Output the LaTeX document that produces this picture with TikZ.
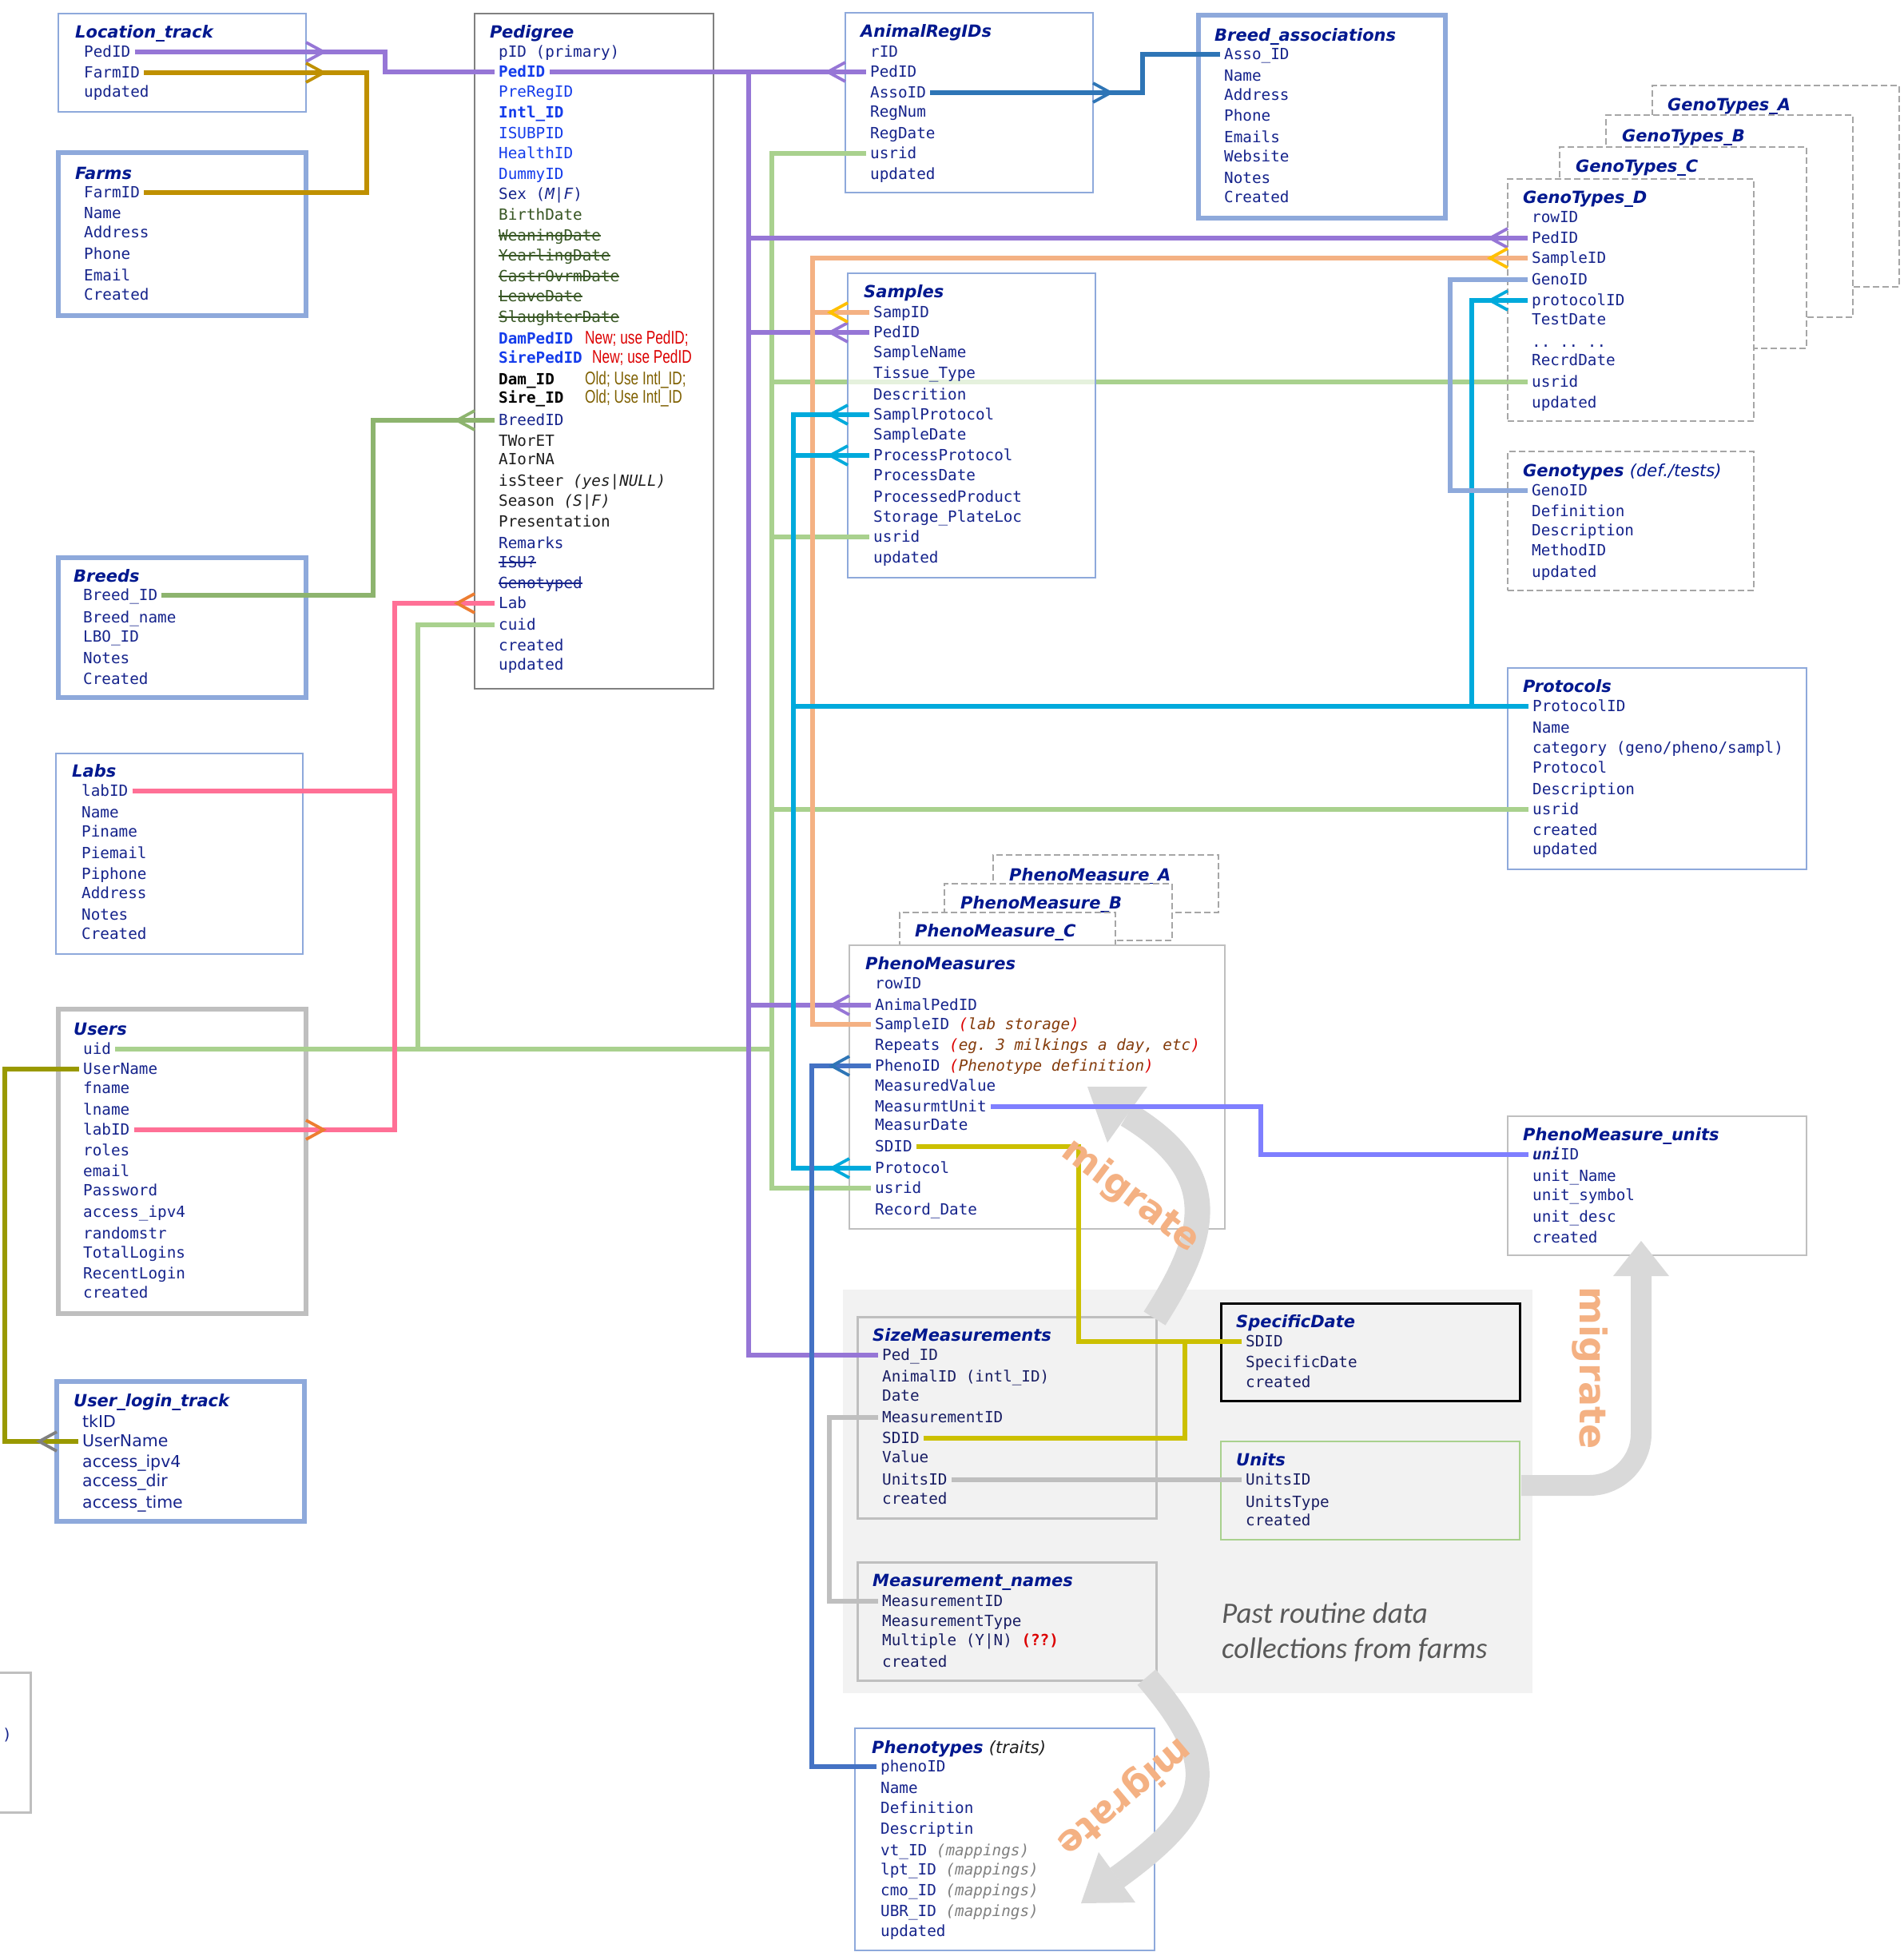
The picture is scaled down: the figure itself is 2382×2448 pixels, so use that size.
\documentclass[tikz,border=0pt]{standalone}
\usepackage{fontspec}
\setmonofont{DejaVu Sans Mono}
\newfontfamily\tfont{DejaVu Sans}
\newfontfamily\nfont[FakeStretch=0.75]{Liberation Sans}
\newfontfamily\pfont{Carlito}
\usetikzlibrary{calc}
\pgfdeclarelayer{bg}
\pgfdeclarelayer{under}
\pgfsetlayers{bg,under,main}
\definecolor{navy}{RGB}{0,24,143}
\definecolor{fieldblue}{RGB}{22,36,140}
\definecolor{darkfld}{RGB}{25,30,100}
\definecolor{brightblue}{RGB}{20,60,235}
\definecolor{dkgreen}{RGB}{55,86,35}
\definecolor{nred}{RGB}{220,0,0}
\definecolor{oldbrown}{RGB}{127,96,0}
\definecolor{txtblack}{RGB}{30,30,30}
\definecolor{boxblue}{RGB}{142,169,219}
\definecolor{boxgray}{RGB}{191,191,191}
\definecolor{pedgray}{RGB}{128,128,128}
\definecolor{dashgray}{RGB}{166,166,166}
\definecolor{areagray}{RGB}{242,242,242}
\definecolor{cpurple}{RGB}{150,118,214}
\definecolor{cgold}{RGB}{191,144,0}
\definecolor{cbreed}{RGB}{141,180,110}
\definecolor{cpink}{RGB}{255,112,150}
\definecolor{corange}{RGB}{237,125,49}
\definecolor{cgreen}{RGB}{169,209,142}
\definecolor{casso}{RGB}{46,117,182}
\definecolor{csalmon}{RGB}{244,177,131}
\definecolor{cyellow}{RGB}{255,192,0}
\definecolor{ccyan}{RGB}{0,170,220}
\definecolor{cgeno}{RGB}{142,169,219}
\definecolor{cunit}{RGB}{127,127,255}
\definecolor{colive}{RGB}{153,153,0}
\definecolor{csdid}{RGB}{204,192,0}
\definecolor{cpheno}{RGB}{68,114,196}
\definecolor{cmig}{RGB}{217,217,217}
\definecolor{brownnote}{RGB}{132,60,12}
\definecolor{pastgray}{RGB}{89,89,89}
\definecolor{mapgray}{RGB}{128,128,128}
\definecolor{footgray}{RGB}{128,128,128}
\newcommand\mystrike[1]{\setbox0=\hbox{#1}\rlap{\rule[5.5pt]{\wd0}{1.6pt}}\box0}
\newcommand\pnote[1]{{\itshape\textcolor{nred}{(}\textcolor{brownnote}{#1}\textcolor{nred}{)}}}
\newcommand\fd[5][]{\node[fld,#1] (#2) at (#3,#4) {#5};}
\newcommand\mybox[6]{\node[tb,#6,minimum width=#4pt,minimum height=#5pt] (#1) at (#2,#3) {};}
\newcommand\mycrow[4]{\coordinate (cfp) at (#2 |- #3);
  \draw[cfoot,#1] ($(cfp)+(0,12)$) -- ($(cfp)+(#4,0)$) -- ($(cfp)+(0,-12)$);}
\tikzset{
 fld/.style={anchor=west, inner xsep=5pt, inner ysep=0pt, xshift=-5pt, text height=13pt, text depth=0pt, font=\ttfamily\fontsize{19.3}{25}\selectfont, text=fieldblue},
 ulf/.style={font=\tfont\fontsize{20.5}{25}\selectfont},
 ttl/.style={anchor=west, inner sep=0pt, text height=15pt, text depth=0pt, font=\tfont\bfseries\itshape\fontsize{21}{25}\selectfont, text=navy},
 note/.style={anchor=west, inner sep=0pt, text height=13pt, text depth=0pt, font=\nfont\fontsize{23}{25}\selectfont},
 tb/.style={anchor=north west, inner sep=0pt, outer sep=0pt, fill=white},
 blu/.style={draw=boxblue, line width=2.5pt},
 bluthick/.style={draw=boxblue, line width=5.5pt},
 gry/.style={draw=boxgray, line width=2.5pt},
 grythick/.style={draw=boxgray, line width=5.5pt},
 dsh/.style={draw=dashgray, line width=2.5pt, dash pattern=on 8pt off 4pt},
 conn/.style={line width=5.4pt},
 cfoot/.style={line width=3.8pt},
 mig/.style={draw=cmig},
 migt/.style={font=\tfont\bfseries\fontsize{46}{46}\selectfont, text=csalmon, inner sep=0pt},
}
\begin{document}
\begin{tikzpicture}[x=1pt,y=-1pt]
\begin{pgfonlayer}{bg}
\fill[white] (0,0) rectangle (2382,2448);
\end{pgfonlayer}
\useasboundingbox (0,0) rectangle (2382,2448);

% ---------- gray area
\mybox{area}{1055}{1614}{863}{505}{fill=areagray}

% ---------- Location_track
\mybox{lt}{73}{17}{310}{123}{blu}
\node[ttl] (lt-t) at (94,40) {Location\_track};
\fd{lt-ped}{105}{65}{PedID}
\fd{lt-farm}{105}{91}{FarmID}
\fd{lt-upd}{105}{115}{updated}

% ---------- Farms
\mybox{fa}{73}{191}{310}{204}{draw=boxblue,line width=6pt}
\node[ttl] (fa-t) at (94,217) {Farms};
\fd{fa-farm}{105}{241}{FarmID}
\fd{fa-2}{105}{267}{Name}
\fd{fa-3}{105}{291}{Address}
\fd{fa-4}{105}{318}{Phone}
\fd{fa-5}{105}{345}{Email}
\fd{fa-6}{105}{369}{Created}

% ---------- Breeds
\mybox{br}{73}{698}{310}{175}{bluthick}
\node[ttl] (br-t) at (92,721) {Breeds};
\fd{br-id}{104}{745}{Breed\_ID}
\fd{br-2}{104}{773}{Breed\_name}
\fd{br-3}{104}{797}{LBO\_ID}
\fd{br-4}{104}{824}{Notes}
\fd{br-5}{104}{850}{Created}

% ---------- Labs
\mybox{la}{70}{943}{309}{251}{blu}
\node[ttl] (la-t) at (90,965) {Labs};
\fd{la-id}{102}{990}{labID}
\fd{la-2}{102}{1017}{Name}
\fd{la-3}{102}{1041}{Piname}
\fd{la-4}{102}{1068}{Piemail}
\fd{la-5}{102}{1094}{Piphone}
\fd{la-6}{102}{1118}{Address}
\fd{la-7}{102}{1145}{Notes}
\fd{la-8}{102}{1169}{Created}

% ---------- Users
\mybox{us}{73}{1263}{310}{381}{grythick}
\node[ttl] (us-t) at (92,1288) {Users};
\fd{us-uid}{104}{1313}{uid}
\fd{us-name}{104}{1338}{UserName}
\fd{us-3}{104}{1362}{fname}
\fd{us-4}{104}{1389}{lname}
\fd{us-lab}{104}{1414}{labID}
\fd{us-6}{104}{1440}{roles}
\fd{us-7}{104}{1466}{email}
\fd{us-8}{104}{1490}{Password}
\fd{us-9}{104}{1517}{access\_ipv4}
\fd{us-10}{104}{1544}{randomstr}
\fd{us-11}{104}{1568}{TotalLogins}
\fd{us-12}{104}{1594}{RecentLogin}
\fd{us-13}{104}{1618}{created}

% ---------- User_login_track
\mybox{ul}{71}{1729}{310}{175}{bluthick}
\node[ttl] (ul-t) at (92,1753) {User\_login\_track};
\fd[ulf]{ul-1}{103}{1780}{tkID}
\fd[ulf]{ul-name}{103}{1804}{UserName}
\fd[ulf]{ul-3}{103}{1830}{access\_ipv4}
\fd[ulf]{ul-4}{103}{1854}{access\_dir}
\fd[ulf]{ul-5}{103}{1881}{access\_time}

% ---------- partial box at left edge
\draw[boxgray, line width=3pt] (0,2093) -- (38,2093) -- (38,2268) -- (0,2268);
\fd{lb-p}{3}{2171}{)}

% ---------- Pedigree
\mybox{ped}{594}{17}{299}{845}{draw=pedgray,line width=2.5pt}
\node[ttl] (p-t) at (613,40) {Pedigree};
\fd{p-1}{624}{65}{pID (primary)}
\fd[text=brightblue]{p-pedid}{624}{90}{\textbf{PedID}}
\fd[text=brightblue]{p-3}{624}{115}{PreRegID}
\fd[text=brightblue]{p-4}{624}{141}{\textbf{Intl\_ID}}
\fd[text=brightblue]{p-5}{624}{167}{ISUBPID}
\fd[text=brightblue]{p-6}{624}{192}{HealthID}
\fd[text=brightblue]{p-7}{624}{218}{DummyID}
\fd{p-8}{624}{243}{Sex (\textit{M|F})}
\fd[text=dkgreen]{p-9}{624}{269}{BirthDate}
\fd[text=dkgreen]{p-10}{624}{295}{\mystrike{WeaningDate}}
\fd[text=dkgreen]{p-11}{624}{320}{\mystrike{YearlingDate}}
\fd[text=dkgreen]{p-12}{624}{346}{\mystrike{CastrOvrmDate}}
\fd[text=dkgreen]{p-13}{624}{371}{\mystrike{LeaveDate}}
\fd[text=dkgreen]{p-14}{624}{397}{\mystrike{SlaughterDate}}
\fd[text=brightblue]{p-15}{624}{424}{\textbf{DamPedID}}
\node[note,text=nred] (p-n1) at (732,424) {New; use PedID;};
\fd[text=brightblue]{p-16}{624}{448}{\textbf{SirePedID}}
\node[note,text=nred] (p-n2) at (741,448) {New; use PedID};
\fd[text=black]{p-17}{624}{475}{\textbf{Dam\_ID}}
\node[note,text=oldbrown] (p-n3) at (732,475) {Old; Use Intl\_ID;};
\fd[text=black]{p-18}{624}{498}{\textbf{Sire\_ID}}
\node[note,text=oldbrown] (p-n4) at (732,498) {Old; Use Intl\_ID};
\fd{p-breed}{624}{526}{BreedID}
\fd[text=txtblack]{p-20}{624}{552}{TWorET}
\fd[text=txtblack]{p-21}{624}{575}{AIorNA}
\fd[text=txtblack]{p-22}{624}{602}{isSteer \textit{(yes|NULL)}}
\fd[text=txtblack]{p-23}{624}{627}{Season \textit{(S|F)}}
\fd[text=txtblack]{p-24}{624}{653}{Presentation}
\fd{p-25}{624}{680}{Remarks}
\fd{p-26}{624}{704}{\mystrike{ISU?}}
\fd{p-27}{624}{730}{\mystrike{Genotyped}}
\fd{p-lab}{624}{755}{Lab}
\fd{p-cuid}{624}{782}{cuid}
\fd{p-30}{624}{808}{created}
\fd{p-31}{624}{832}{updated}

% ---------- AnimalRegIDs
\mybox{ar}{1058}{16}{310}{225}{blu}
\node[ttl] (ar-t) at (1077,39) {AnimalRegIDs};
\fd{ar-1}{1089}{65}{rID}
\fd{ar-ped}{1089}{90}{PedID}
\fd{ar-asso}{1089}{116}{AssoID}
\fd{ar-4}{1089}{140}{RegNum}
\fd{ar-5}{1089}{167}{RegDate}
\fd{ar-usr}{1089}{192}{usrid}
\fd{ar-7}{1089}{218}{updated}

% ---------- Breed_associations
\mybox{ba}{1500}{19}{309}{254}{bluthick}
\node[ttl] (ba-t) at (1520,44) {Breed\_associations};
\fd{ba-id}{1532}{68}{Asso\_ID}
\fd{ba-2}{1532}{95}{Name}
\fd{ba-3}{1532}{119}{Address}
\fd{ba-4}{1532}{145}{Phone}
\fd{ba-5}{1532}{172}{Emails}
\fd{ba-6}{1532}{196}{Website}
\fd{ba-7}{1532}{223}{Notes}
\fd{ba-8}{1532}{247}{Created}

% ---------- GenoTypes stack
\mybox{gA}{2068}{107}{309}{252}{dsh}
\node[ttl] (gA-t) at (2087,131) {GenoTypes\_A};
\mybox{gB}{2010}{144}{309}{253}{dsh}
\node[ttl] (gB-t) at (2030,170) {GenoTypes\_B};
\mybox{gC}{1952}{184}{309}{252}{dsh}
\node[ttl] (gC-t) at (1972,208) {GenoTypes\_C};
\mybox{gd}{1887}{224}{308}{303}{dsh}
\node[ttl] (gD-t) at (1906,247) {GenoTypes\_D};
\fd{gd-1}{1917}{272}{rowID}
\fd{gd-ped}{1917}{298}{PedID}
\fd{gd-samp}{1917}{323}{SampleID}
\fd{gd-geno}{1917}{350}{GenoID}
\fd{gd-prot}{1917}{376}{protocolID}
\fd{gd-6}{1917}{400}{TestDate}
\fd{gd-7}{1917}{428}{.. .. ..}
\fd{gd-8}{1917}{451}{RecrdDate}
\fd{gd-usr}{1917}{478}{usrid}
\fd{gd-10}{1917}{504}{updated}

% ---------- Genotypes (def./tests)
\mybox{gt}{1887}{565}{308}{174}{dsh}
\node[ttl] (gt-t) at (1906,589) {Genotypes {\mdseries (def./tests)}};
\fd{gt-geno}{1917}{614}{GenoID}
\fd{gt-2}{1917}{640}{Definition}
\fd{gt-3}{1917}{664}{Description}
\fd{gt-4}{1917}{689}{MethodID}
\fd{gt-5}{1917}{716}{updated}

% ---------- Samples (semi-transparent fill)
\mybox{sa}{1061}{342}{310}{381}{blu,fill opacity=0.7}
\node[ttl] (sa-t) at (1081,365) {Samples};
\fd{sa-samp}{1093}{391}{SampID}
\fd{sa-ped}{1093}{416}{PedID}
\fd{sa-3}{1093}{441}{SampleName}
\fd{sa-4}{1093}{467}{Tissue\_Type}
\fd{sa-5}{1093}{494}{Descrition}
\fd{sa-sprot}{1093}{519}{SamplProtocol}
\fd{sa-7}{1093}{544}{SampleDate}
\fd{sa-pprot}{1093}{570}{ProcessProtocol}
\fd{sa-9}{1093}{595}{ProcessDate}
\fd{sa-10}{1093}{622}{ProcessedProduct}
\fd{sa-11}{1093}{647}{Storage\_PlateLoc}
\fd{sa-usr}{1093}{672}{usrid}
\fd{sa-13}{1093}{698}{updated}

% ---------- Protocols
\mybox{pr}{1887}{836}{374}{252}{blu}
\node[ttl] (pr-t) at (1906,859) {Protocols};
\fd{pr-id}{1918}{884}{ProtocolID}
\fd{pr-2}{1918}{911}{Name}
\fd{pr-3}{1918}{936}{category (geno/pheno/sampl)}
\fd{pr-4}{1918}{961}{Protocol}
\fd{pr-5}{1918}{988}{Description}
\fd{pr-usr}{1918}{1013}{usrid}
\fd{pr-7}{1918}{1039}{created}
\fd{pr-8}{1918}{1063}{updated}

% ---------- PhenoMeasure_units
\mybox{pu}{1887}{1397}{374}{174}{gry}
\node[ttl] (pu-t) at (1906,1420) {PhenoMeasure\_units};
\fd{pu-id}{1918}{1445}{\textbf{\textit{uni}}ID}
\fd{pu-2}{1918}{1472}{unit\_Name}
\fd{pu-3}{1918}{1496}{unit\_symbol}
\fd{pu-4}{1918}{1523}{unit\_desc}
\fd{pu-5}{1918}{1549}{created}

% ---------- PhenoMeasure stack
\mybox{pA}{1243}{1070}{282}{72}{dsh}
\node[ttl] (pA-t) at (1263,1095) {PhenoMeasure\_A};
\mybox{pB}{1182}{1106}{285}{71}{dsh}
\node[ttl] (pB-t) at (1202,1130) {PhenoMeasure\_B};
\mybox{pC}{1126}{1142}{270}{60}{dsh}
\node[ttl] (pC-t) at (1145,1165) {PhenoMeasure\_C};
\mybox{pm}{1063}{1183}{470}{355}{gry}
\node[ttl] (pm-t) at (1083,1206) {PhenoMeasures};
\fd{pm-1}{1095}{1231}{rowID}
\fd{pm-ped}{1095}{1258}{AnimalPedID}
\fd{pm-samp}{1095}{1282}{SampleID \pnote{lab storage}}
\fd{pm-4}{1095}{1308}{Repeats \pnote{eg. 3 milkings a day, etc}}
\fd{pm-pheno}{1095}{1334}{PhenoID \pnote{Phenotype definition}}
\fd{pm-6}{1095}{1359}{MeasuredValue}
\fd{pm-unit}{1095}{1385}{MeasurmtUnit}
\fd{pm-8}{1095}{1408}{MeasurDate}
\fd{pm-sdid}{1095}{1435}{SDID}
\fd{pm-prot}{1095}{1462}{Protocol}
\fd{pm-usr}{1095}{1487}{usrid}
\fd{pm-12}{1095}{1514}{Record\_Date}

% ---------- SizeMeasurements
\mybox{sz}{1073}{1648}{374}{252}{draw=boxgray,line width=3pt,fill=areagray}
\node[ttl] (sz-t) at (1092,1671) {SizeMeasurements};
\fd[text=darkfld]{sz-ped}{1104}{1696}{Ped\_ID}
\fd[text=darkfld]{sz-2}{1104}{1723}{AnimalID (intl\_ID)}
\fd[text=darkfld]{sz-3}{1104}{1747}{Date}
\fd[text=darkfld]{sz-mid}{1104}{1774}{MeasurementID}
\fd[text=darkfld]{sz-sdid}{1104}{1800}{SDID}
\fd[text=darkfld]{sz-6}{1104}{1824}{Value}
\fd[text=darkfld]{sz-unit}{1104}{1852}{UnitsID}
\fd[text=darkfld]{sz-8}{1104}{1876}{created}

% ---------- Measurement_names
\mybox{mn}{1073}{1955}{374}{148}{draw=boxgray,line width=3pt,fill=areagray}
\node[ttl] (mn-t) at (1092,1978) {Measurement\_names};
\fd[text=darkfld]{mn-mid}{1104}{2004}{MeasurementID}
\fd[text=darkfld]{mn-2}{1104}{2029}{MeasurementType}
\fd[text=darkfld]{mn-3}{1104}{2053}{Multiple (Y|N) \textcolor{nred}{\textbf{(??)}}}
\fd[text=darkfld]{mn-4}{1104}{2080}{created}

% ---------- SpecificDate
\mybox{sd}{1528}{1631}{374}{122}{draw=black,line width=3pt,fill=areagray}
\node[ttl] (sd-t) at (1547,1654) {SpecificDate};
\fd[text=darkfld]{sd-id}{1559}{1679}{SDID}
\fd[text=darkfld]{sd-2}{1559}{1705}{SpecificDate}
\fd[text=darkfld]{sd-3}{1559}{1730}{created}

% ---------- Units
\mybox{un}{1528}{1804}{374}{123}{draw=cgreen,line width=2.5pt,fill=areagray}
\node[ttl] (un-t) at (1547,1827) {Units};
\fd[text=darkfld]{un-id}{1559}{1852}{UnitsID}
\fd[text=darkfld]{un-2}{1559}{1880}{UnitsType}
\fd[text=darkfld]{un-3}{1559}{1903}{created}

\node[anchor=base west, inner sep=0pt, font=\pfont\itshape\fontsize{37}{44}\selectfont, text=pastgray] (past1) at (1529,2031) {Past routine data};
\node[anchor=base west, inner sep=0pt, font=\pfont\itshape\fontsize{37}{44}\selectfont, text=pastgray] (past2) at (1529,2075) {collections from farms};

% ---------- Phenotypes
\mybox{ph}{1070}{2163}{375}{278}{blu}
\node[ttl] (ph-t) at (1091,2187) {Phenotypes {\mdseries\color{txtblack}(traits)}};
\fd{ph-id}{1102}{2211}{phenoID}
\fd{ph-2}{1102}{2238}{Name}
\fd{ph-3}{1102}{2263}{Definition}
\fd{ph-4}{1102}{2289}{Descriptin}
\fd{ph-5}{1102}{2316}{vt\_ID \textcolor{mapgray}{\itshape(mappings)}}
\fd{ph-6}{1102}{2340}{lpt\_ID \textcolor{mapgray}{\itshape(mappings)}}
\fd{ph-7}{1102}{2366}{cmo\_ID \textcolor{mapgray}{\itshape(mappings)}}
\fd{ph-8}{1102}{2392}{UBR\_ID \textcolor{mapgray}{\itshape(mappings)}}
\fd{ph-9}{1102}{2417}{updated}

% ---------- migrate arrows
\draw[mig, line width=32pt] (1445,1650) .. controls (1512,1545) and (1532,1468) .. (1411,1395);
\fill[cmig] (1361,1360) -- (1436,1360) -- (1386,1430) -- cycle;
\draw[mig, line width=26pt, rounded corners=65pt] (1904,1859) -- (2054,1859) -- (2054,1596);
\fill[cmig] (2054,1553) -- (2089,1597) -- (2019,1597) -- cycle;
\draw[mig, line width=30pt] (1435,2099) .. controls (1530,2210) and (1520,2262) .. (1398,2350);
\fill[cmig] (1353,2382) -- (1421,2381) -- (1375,2318) -- cycle;

% ---------- channels
\coordinate (chPedL) at (482,0);
\coordinate (chFarm) at (459,0);
\coordinate (chBreed) at (467,0);
\coordinate (chLab) at (494,0);
\coordinate (chCuid) at (523,0);
\coordinate (chPur) at (937,0);
\coordinate (chUsr) at (966,0);
\coordinate (chProt) at (993,0);
\coordinate (chPheno) at (1016,0);
\coordinate (chSamp) at (1017,0);
\coordinate (chMeas) at (1038,0);
\coordinate (chSd1) at (1350,0);
\coordinate (chAsso) at (1430,0);
\coordinate (chSd2) at (1483,0);
\coordinate (chUnit) at (1578,0);
\coordinate (chGeno) at (1815,0);
\coordinate (chProtR) at (1842,0);
\coordinate (chUser) at (6,0);

% ---------- connectors
% green usrid network (the line to GenoTypes_D passes behind the Samples box)
\begin{pgfonlayer}{under}
\draw[conn,cgreen] (chUsr |- gd-usr) -- (gd-usr.west);
\end{pgfonlayer}
\draw[conn,cgreen] (gd.west |- gd-usr) -- (gd-usr.west);
\draw[conn,cgreen] (ar-usr.west) -| (chUsr |- pm-usr) -- (pm-usr.west);
\draw[conn,cgreen] (chUsr |- sa-usr) -- (sa-usr.west);
\draw[conn,cgreen] (chUsr |- pr-usr) -- (pr-usr.west);
\draw[conn,cgreen] (us-uid.east) -- (chUsr |- us-uid);
\draw[conn,cgreen] (chCuid |- us-uid) |- (p-cuid.west);

% purple PedID
\draw[conn,cpurple] (lt-ped.east) -| (chPedL |- p-pedid) -- (p-pedid.west);
\mycrow{cpurple}{lt.east}{lt-ped}{22}
\draw[conn,cpurple] (p-pedid.east) -- (ar-ped.west);
\mycrow{cpurple}{ar.west}{ar-ped}{-22}
\draw[conn,cpurple] (chPur |- p-pedid) -- (chPur |- sz-ped) -- (sz-ped.west);
\draw[conn,cpurple] (chPur |- gd-ped) -- (gd-ped.west);
\mycrow{cpurple}{gd.west}{gd-ped}{-22}
\draw[conn,cpurple] (chPur |- sa-ped) -- (sa-ped.west);
\mycrow{cpurple}{sa.west}{sa-ped}{-22}
\draw[conn,cpurple] (chPur |- pm-ped) -- (pm-ped.west);
\mycrow{cpurple}{pm.west}{pm-ped}{-22}

% gold FarmID
\draw[conn,cgold] (fa-farm.east) -| (chFarm |- lt-farm) -- (lt-farm.east);
\mycrow{cgold}{lt.east}{lt-farm}{22}

% breed
\draw[conn,cbreed] (br-id.east) -| (chBreed |- p-breed) -- (p-breed.west);
\mycrow{cbreed}{ped.west}{p-breed}{-22}

% pink lab
\draw[conn,cpink] (us-lab.east) -| (chLab |- p-lab) -- (p-lab.west);
\draw[conn,cpink] (la-id.east) -- (chLab |- la-id);
\mycrow{corange}{ped.west}{p-lab}{-22}
\mycrow{corange}{us.east}{us-lab}{22}

% asso
\draw[conn,casso] (ar-asso.east) -| (chAsso |- ba-id) -- (ba-id.west);
\mycrow{casso}{ar.east}{ar-asso}{22}

% salmon SampleID
\draw[conn,csalmon] (gd-samp.west) -| (chSamp |- pm-samp) -- (pm-samp.west);
\draw[conn,csalmon] (chSamp |- sa-samp) -- (sa-samp.west);
\mycrow{cyellow}{gd.west}{gd-samp}{-22}
\mycrow{cyellow}{sa.west}{sa-samp}{-22}

% cyan protocol
\draw[conn,ccyan] (pr-id.west) -- (chProt |- pr-id);
\draw[conn,ccyan] (sa-sprot.west) -| (chProt |- pm-prot) -- (pm-prot.west);
\draw[conn,ccyan] (chProt |- sa-pprot) -- (sa-pprot.west);
\draw[conn,ccyan] (chProtR |- pr-id) |- (gd-prot.west);
\mycrow{ccyan}{sa.west}{sa-sprot}{-22}
\mycrow{ccyan}{sa.west}{sa-pprot}{-22}
\mycrow{ccyan}{pm.west}{pm-prot}{-22}
\mycrow{ccyan}{gd.west}{gd-prot}{-22}

% genoID
\draw[conn,cgeno] (gd-geno.west) -| (chGeno |- gt-geno) -- (gt-geno.west);

% measurement unit
\draw[conn,cunit] (pm-unit.east) -| (chUnit |- pu-id) -- (pu-id.west);

% username
\draw[conn,colive] (us-name.west) -| (chUser |- ul-name) -- (ul-name.west);
\mycrow{footgray}{ul.west}{ul-name}{-22}

% SDID
\draw[conn,csdid] (pm-sdid.east) -| (chSd1 |- sd-id) -- (sd-id.west);
\draw[conn,csdid] (sz-sdid.east) -| (chSd2 |- sd-id);

% measurement id and units
\draw[conn,boxgray] (sz-mid.west) -| (chMeas |- mn-mid) -- (mn-mid.west);
\draw[conn,boxgray] (sz-unit.east) -- (un-id.west);

% phenoID
\draw[conn,cpheno] (pm-pheno.west) -| (chPheno |- ph-id) -- (ph-id.west);
\mycrow{casso}{pm.west}{pm-pheno}{-22}

% ---------- migrate labels
\node[migt, rotate=-37] (mig1) at (1415,1497) {migrate};
\node[migt, rotate=-90] (mig2) at (1990,1712) {migrate};
\node[migt, rotate=220] (mig3) at (1407,2248) {migrate};
\end{tikzpicture}
\end{document}
